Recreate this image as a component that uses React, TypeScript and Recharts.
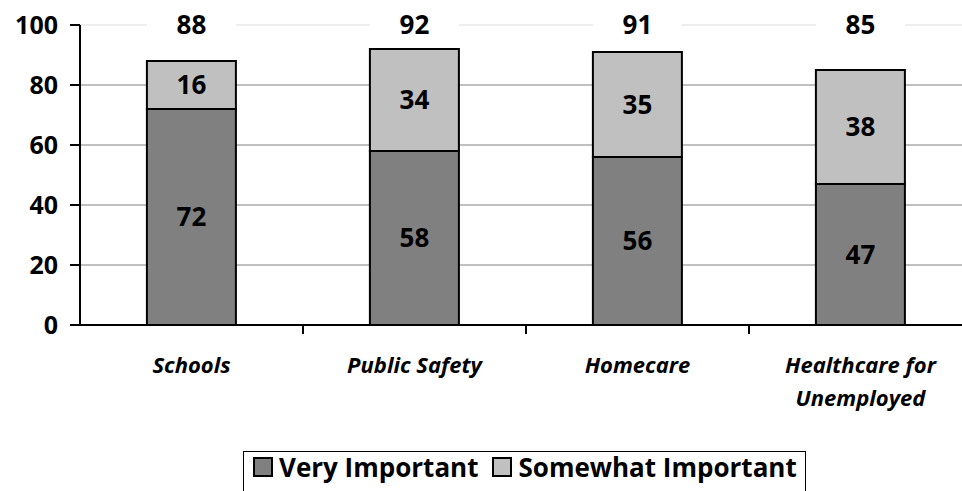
import { BarChart, Bar, XAxis, YAxis, CartesianGrid, LabelList, ReferenceLine } from "recharts";

// importance ratings, percent of respondents
const categories = ["Schools", "Public Safety", "Homecare", "Healthcare for Unemployed"];
const veryImportant = [72, 58, 56, 47];
const somewhatImportant = [16, 34, 35, 38];
const totals = [88, 92, 91, 85];
const yTicks = [0, 20, 40, 60, 80, 100];

const FONT = "'Open Sans', 'DejaVu Sans', sans-serif";
const DARK = "#808080";
const LIGHT = "#c0c0c0";

const CHART_W = 972;
const CHART_H = 491;
const LEFT = 80;
const XAXIS_H = 166;
const AXIS_Y = CHART_H - XAXIS_H;
const BAND = (CHART_W - LEFT) / categories.length;

const data = categories.map((name, i) => ({
  name,
  very: veryImportant[i],
  somewhat: somewhatImportant[i],
  total: totals[i],
}));

// category label plus the divider tick on the right edge of each band
function CategoryTick(props: any) {
  const { x, payload, index } = props;
  const words: string[] = payload.value === "Healthcare for Unemployed" ? ["Healthcare for", "Unemployed"] : [payload.value];
  const edge = x + BAND / 2;
  return (
    <g>
      {index < categories.length - 1 && (
        <line x1={edge} x2={edge} y1={AXIS_Y} y2={AXIS_Y + 9} stroke="#000" strokeWidth={2} />
      )}
      {words.map((w, k) => (
        <text
          key={k}
          x={x}
          y={AXIS_Y + 39 + k * 33}
          textAnchor="middle"
          dominantBaseline="central"
          fontFamily={FONT}
          fontWeight={700}
          fontStyle="italic"
          fontSize={22}
          fill="#000"
        >
          {w}
        </text>
      ))}
    </g>
  );
}

function TotalLabel(props: any) {
  const { x, y, width, index } = props;
  const cy = Math.min(y - 23, 24);
  return (
    <g>
      <rect x={x} y={cy - 15} width={width} height={30} fill="#fff" />
      <text
        x={x + width / 2}
        y={cy}
        textAnchor="middle"
        dominantBaseline="central"
        fontFamily={FONT}
        fontWeight={700}
        fontSize={26}
        fill="#000"
      >
        {totals[index]}
      </text>
    </g>
  );
}

function LegendBox() {
  const item = (color: string, label: string, gapAfter: number) => (
    <span style={{ display: "inline-flex", alignItems: "center", marginRight: gapAfter }}>
      <span
        style={{
          display: "inline-block",
          width: 20,
          height: 20,
          boxSizing: "border-box",
          background: color,
          border: "2px solid #000",
          marginRight: 6,
        }}
      />
      {label}
    </span>
  );
  return (
    <div
      style={{
        position: "absolute",
        left: 243,
        top: 451,
        width: 563,
        height: 60,
        border: "1.5px solid #000",
        boxSizing: "border-box",
        fontFamily: FONT,
        fontWeight: 700,
        fontSize: 26,
        lineHeight: "30px",
        color: "#000",
        paddingLeft: 9,
        whiteSpace: "nowrap",
        display: "flex",
        alignItems: "flex-start",
      }}
    >
      {item(DARK, "Very Important", 14)}
      {item(LIGHT, "Somewhat Important", 0)}
    </div>
  );
}

export default function App() {
  return (
    <div
      style={{
        position: "fixed",
        left: 0,
        top: 0,
        width: 962,
        height: 491,
        overflow: "hidden",
        background: "#fff",
      }}
    >
      <BarChart
        width={CHART_W}
        height={CHART_H}
        data={data}
        margin={{ top: 25, right: 0, left: 0, bottom: 0 }}
        barCategoryGap="30%"
      >
        <CartesianGrid vertical={false} horizontalValues={[20, 40, 60, 80]} stroke="#c0c0c0" strokeWidth={2} />
        <ReferenceLine y={100} stroke="#eeeeee" strokeWidth={2} />
        <XAxis
          dataKey="name"
          height={XAXIS_H}
          interval={0}
          tickLine={false}
          axisLine={{ stroke: "#000", strokeWidth: 2 }}
          tick={<CategoryTick />}
        />
        <YAxis
          width={LEFT}
          domain={[0, 100]}
          ticks={yTicks}
          interval={0}
          tickSize={10}
          tickMargin={12}
          axisLine={{ stroke: "#000", strokeWidth: 2 }}
          tickLine={{ stroke: "#000", strokeWidth: 2 }}
          tick={{ fontFamily: FONT, fontWeight: 700, fontSize: 25, fill: "#000" }}
        />
        <Bar dataKey="very" stackId="a" fill={DARK} stroke="#000" strokeWidth={2} isAnimationActive={false}>
          <LabelList dataKey="very" position="center" fontFamily={FONT} fontWeight={700} fontSize={26} fill="#000" />
        </Bar>
        <Bar dataKey="somewhat" stackId="a" fill={LIGHT} stroke="#000" strokeWidth={2} isAnimationActive={false}>
          <LabelList dataKey="somewhat" position="center" fontFamily={FONT} fontWeight={700} fontSize={26} fill="#000" />
          <LabelList dataKey="total" content={<TotalLabel />} />
        </Bar>
      </BarChart>
      <LegendBox />
    </div>
  );
}
